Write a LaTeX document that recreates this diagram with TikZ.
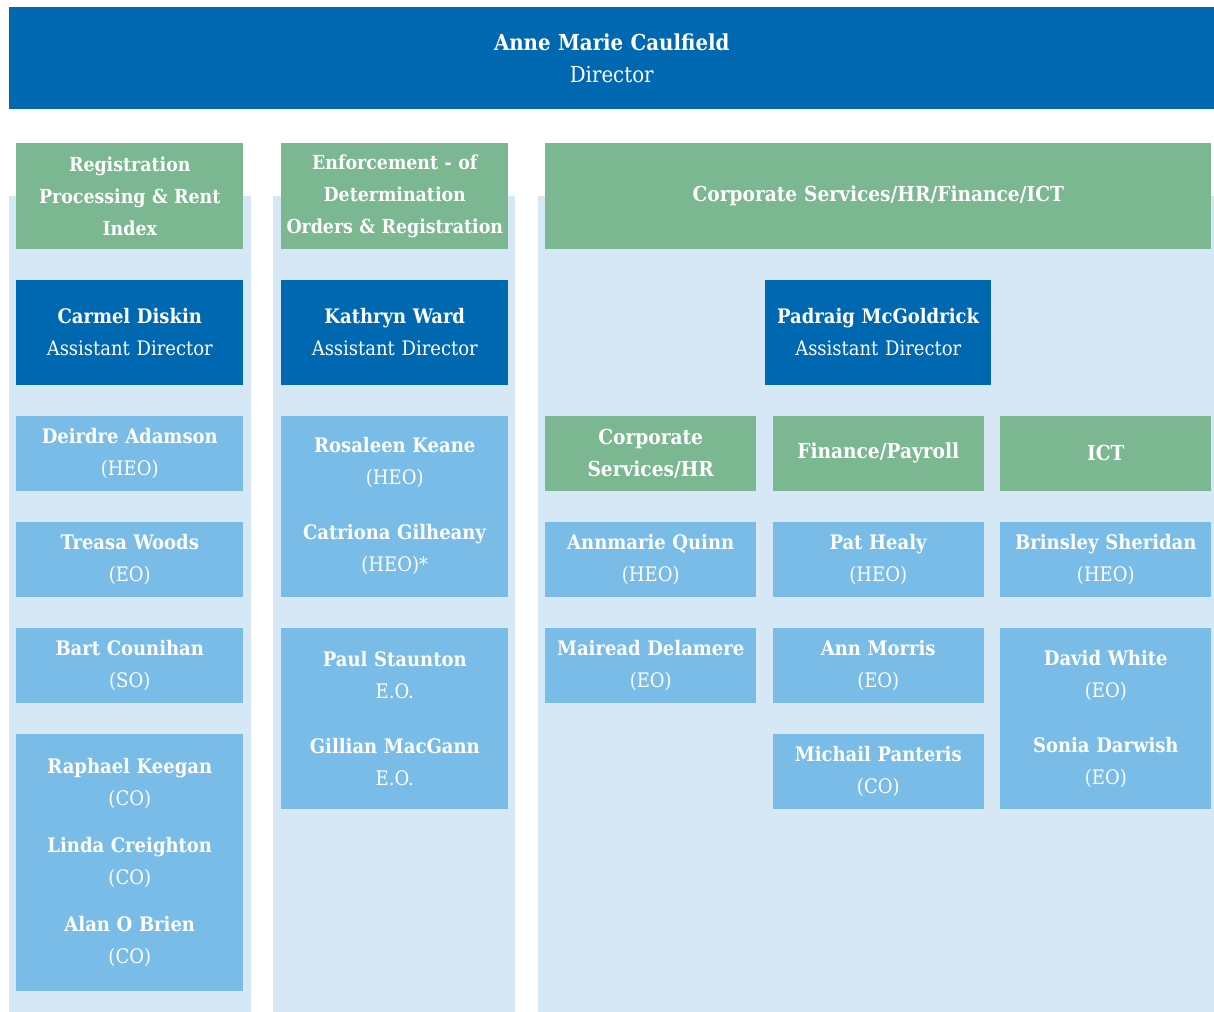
\documentclass[tikz,border=0pt]{standalone}
\usepackage{fontspec}
\setmainfont{DejaVu Serif Condensed}
\usetikzlibrary{positioning}
\definecolor{dirblue}{HTML}{0067B1}
\definecolor{hdrgreen}{HTML}{7BB790}
\definecolor{staffblue}{HTML}{79BCE7}
\definecolor{colbg}{HTML}{D6E8F5}
\tikzstyle{box}=[rectangle,text=white,align=center,inner sep=1pt,
font=\fontsize{15}{24}\selectfont]
\tikzstyle{wide}=[minimum width=170.25pt,text width=168pt]
\tikzstyle{narrow}=[minimum width=158.25pt,text width=156pt]
\tikzstyle{head}=[box,fill=hdrgreen,minimum height=79.5pt,
font=\bfseries\fontsize{14.5}{24}\selectfont]
\tikzstyle{subhead}=[head,narrow,minimum height=56.25pt,
font=\bfseries\fontsize{15.5}{24}\selectfont]
\tikzstyle{ad}=[box,fill=dirblue,minimum height=78.75pt]
\tikzstyle{staff}=[box,fill=staffblue,minimum height=56.25pt]
\tikzstyle{staffii}=[staff,minimum height=135.75pt]
\tikzstyle{staffiii}=[staff,minimum height=192.75pt]
\newcommand{\who}[2]{\textbf{#1}\\#2}

\begin{document}
\begin{tikzpicture}[x=0.75pt,y=-0.75pt,node distance=22.9pt]
            \useasboundingbox (0,0) rectangle (1214,1012);

            % column backgrounds
            \fill[colbg] (9,196) rectangle (251,1012);
            \fill[colbg] (273,196) rectangle (515,1012);
            \fill[colbg] (538,196) rectangle (1214,1012);

            % DIRECTOR
            \node[box,fill=dirblue,anchor=north west,minimum width=903.75pt,
                  text width=900pt,minimum height=76.5pt,font=\fontsize{16.5}{24}\selectfont] (d) at (9,7)
                  {\who{Anne Marie Caulfield}{Director}};

            % REGISTRATION PART

            \node[head,wide,anchor=north west] (h1) at (16,143) {Registration\\Processing \& Rent\\Index};
            \node[ad,wide,below=22.5pt of h1] (a1) {\who{Carmel Diskin}{Assistant Director}};
            \node[staff,wide,below=of a1] (s1) {\who{Deirdre Adamson}{(HEO)}};
            \node[staff,wide,below=of s1] (s2) {\who{Treasa Woods}{(EO)}};
            \node[staff,wide,below=of s2] (s3) {\who{Bart Counihan}{(SO)}};
            \node[staffiii,wide,below=of s3] (s4) {\who{Raphael Keegan}{(CO)}\\[11.25pt]
                  \who{Linda Creighton}{(CO)}\\[11.25pt]\who{Alan O Brien}{(CO)}};

            % ENFORCEMENT PART

            \node[head,wide,anchor=north west] (h2) at (281,143) {Enforcement - of\\Determination\\Orders \& Registration};
            \node[ad,wide,below=22.5pt of h2] (a2) {\who{Kathryn Ward}{Assistant Director}};
            \node[staffii,wide,below=of a2] (e1) {\who{Rosaleen Keane}{(HEO)}\\[17.25pt]
                  \who{Catriona Gilheany}{(HEO)*}};
            \node[staffii,wide,below=of e1] (e2) {\who{Paul Staunton}{E.O.}\\[17.25pt]
                  \who{Gillian MacGann}{E.O.}};

            % CORPORATE PART

            \node[head,anchor=north west,minimum width=499.5pt,text width=497pt,
                  font=\bfseries\fontsize{15.5}{24}\selectfont] (h3) at (545,143)
                  {Corporate Services/HR/Finance/ICT};
            \node[ad,below=22.5pt of h3,minimum width=169.5pt,text width=167pt] (a3) {\who{Padraig McGoldrick}{Assistant Director}};
            \node[subhead,below=of a3] (g2) {Finance/Payroll};
            \node[subhead,left=12pt of g2] (g1) {Corporate\\Services/HR};
            \node[subhead,right=12pt of g2] (g3) {ICT};

            \node[staff,narrow,below=of g1] (c1) {\who{Annmarie Quinn}{(HEO)}};
            \node[staff,narrow,below=of c1] (c2) {\who{Mairead Delamere}{(EO)}};

            \node[staff,narrow,below=of g2] (f1) {\who{Pat Healy}{(HEO)}};
            \node[staff,narrow,below=of f1] (f2) {\who{Ann Morris}{(EO)}};
            \node[staff,narrow,below=of f2] (f3) {\who{Michail Panteris}{(CO)}};

            \node[staff,narrow,below=of g3] (i1) {\who{Brinsley Sheridan}{(HEO)}};
            \node[staffii,narrow,below=of i1] (i2) {\who{David White}{(EO)}\\[17.25pt]
                  \who{Sonia Darwish}{(EO)}};

        \end{tikzpicture}
\end{document}
